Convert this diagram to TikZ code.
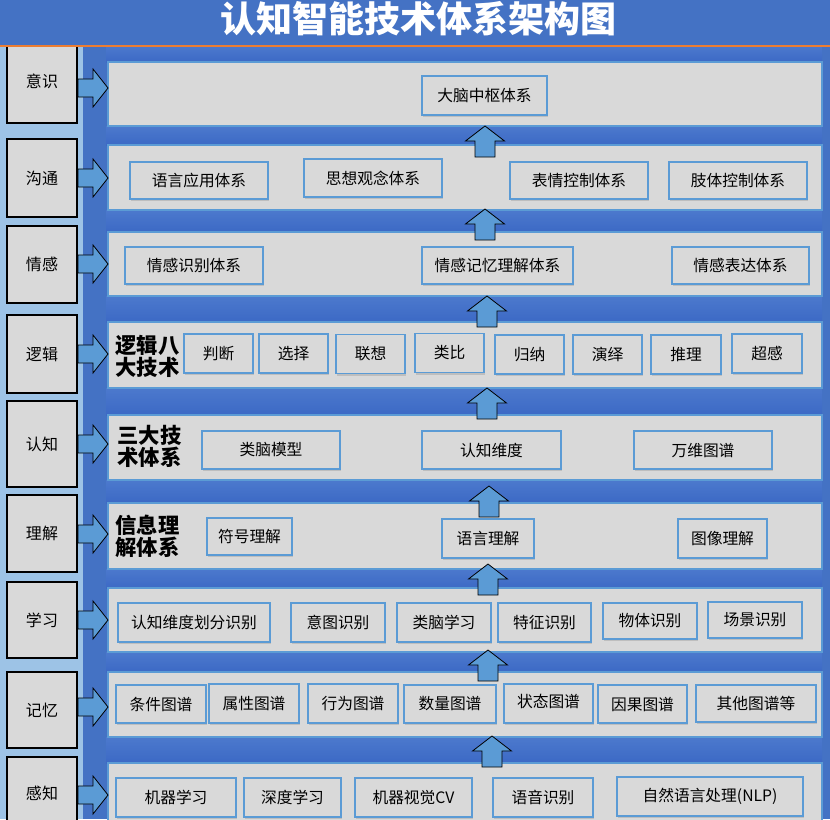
\documentclass[tikz,border=0pt]{standalone}
\usepackage{fontspec}
\usepackage{tikz}
\usetikzlibrary{shadows}
\newfontfamily\cjk{Noto Sans CJK SC}
\definecolor{mainblue}{HTML}{4472C4}
\definecolor{sideblue}{HTML}{9DC3E6}
\definecolor{edgeblue}{HTML}{5B9BD5}
\definecolor{boxgray}{HTML}{D9D9D9}
\definecolor{gaptop}{HTML}{4C79CD}
\definecolor{gapmid}{HTML}{6F93D8}
\definecolor{gapbot}{HTML}{3C69C5}
\definecolor{bandline}{HTML}{ED7D31}
\newcommand{\upx}{0.75pt}
\tikzset{
  arrowfill/.style={fill=edgeblue, draw=black, line width=0.6pt, line join=miter},
  rarr/.pic={\draw[arrowfill] (0,-9) -- (15,-9) -- (15,-19) -- (30,0) -- (15,19) -- (15,9) -- (0,9) -- cycle;},
  uarr/.pic={\draw[arrowfill] (0,0) -- (19.5,15) -- (10,15) -- (10,31) -- (-10,31) -- (-10,15) -- (-19.5,15) -- cycle;}
}

\begin{document}
\begin{tikzpicture}[x=0.75pt, y=-0.75pt, font=\cjk]
\tikzstyle{layer}=[rectangle, draw=edgeblue, fill=boxgray, line width=0.8pt, inner sep=0pt, minimum width=714*\upx]
\tikzstyle{side}=[rectangle, draw=black, fill=boxgray, line width=0.9pt, inner sep=0pt, minimum width=70*\upx, font=\cjk\fontsize{12}{13}\selectfont]
\tikzstyle{sub}=[rectangle, draw=edgeblue, fill=boxgray, line width=0.9pt, inner sep=0pt, font=\cjk\fontsize{11.8}{13}\selectfont, drop shadow={shadow xshift=0.6pt, shadow yshift=-1.6pt, opacity=0.3}]
\tikzstyle{hd}=[inner sep=0pt, align=left, font=\cjk\bfseries\fontsize{16}{16.5}\selectfont]
\clip (0,0) rectangle (830,819);
\fill[sideblue] (0,46) rectangle (83,819);
\fill[mainblue] (83,46) rectangle (830,819);
\foreach \a/\b in {46/62, 126/145, 210/232, 296/322, 388/415, 480/503, 569/588, 652/672, 737/763}
  \shade[top color=gaptop, middle color=gapmid, bottom color=gapbot] (106,\a) rectangle (822,\b);
\node[layer, minimum height=64*\upx] (l1) at (465,94) {};
\node[layer, minimum height=65*\upx] (l2) at (465,177.5) {};
\node[layer, minimum height=64*\upx] (l3) at (465,264) {};
\node[layer, minimum height=66*\upx] (l4) at (465,355) {};
\node[layer, minimum height=65*\upx] (l5) at (465,447.5) {};
\node[layer, minimum height=66*\upx] (l6) at (465,536) {};
\node[layer, minimum height=64*\upx] (l7) at (465,620) {};
\node[layer, minimum height=65*\upx] (l8) at (465,704.5) {};
\node[layer, minimum height=72*\upx] (l9) at (465,799) {};
\node[side, minimum height=83*\upx] (s1) at (42,81.5) {意识};
\node[side, minimum height=78*\upx] (s2) at (42,178) {沟通};
\node[side, minimum height=77*\upx] (s3) at (42,264.5) {情感};
\node[side, minimum height=78*\upx] (s4) at (42,354) {逻辑};
\node[side, minimum height=86*\upx] (s5) at (42,444) {认知};
\node[side, minimum height=77*\upx] (s6) at (42,533.5) {理解};
\node[side, minimum height=76*\upx] (s7) at (42,620) {学习};
\node[side, minimum height=76*\upx] (s8) at (42,710) {记忆};
\node[side, minimum height=73*\upx] (s9) at (42,793.5) {感知};
\node[rectangle, fill=mainblue, draw=bandline, line width=1.1pt, minimum width=832*\upx, minimum height=47*\upx, inner sep=0pt] (band) at (415,22.5) {};
\node[text=white, inner sep=0pt, font=\cjk\bfseries\fontsize{27}{29}\selectfont] (title) at (418,19) {认知智能技术体系架构图};
\foreach \y in {88, 178, 264, 354, 444, 534, 620, 707, 795}
  \pic at (78,\y) {rarr};
\foreach \x/\y in {485/126, 485/209, 487/296, 487/388, 489/486, 488/564, 488/650, 492/736}
  \pic at (\x,\y) {uarr};
\node[sub, minimum width=125*\upx, minimum height=39*\upx] (dnzs) at (484.5,95.5) {大脑中枢体系};
\node[sub, minimum width=138*\upx, minimum height=37*\upx] (yyyy) at (199,180.5) {语言应用体系};
\node[sub, minimum width=138*\upx, minimum height=38*\upx] (sxgn) at (373,178) {思想观念体系};
\node[sub, minimum width=138*\upx, minimum height=37*\upx] (bqkz) at (579,180.5) {表情控制体系};
\node[sub, minimum width=138*\upx, minimum height=37*\upx] (ztkz) at (738,180.5) {肢体控制体系};
\node[sub, minimum width=138*\upx, minimum height=37*\upx] (qgsb) at (194,265.5) {情感识别体系};
\node[sub, minimum width=151*\upx, minimum height=37*\upx] (qgjy) at (497.5,265.5) {情感记忆理解体系};
\node[sub, minimum width=137*\upx, minimum height=37*\upx] (qgbd) at (740.5,265.5) {情感表达体系};
\node[hd] (hd4) at (147.5,356) {逻辑八\\大技术};
\node[sub, minimum width=69*\upx, minimum height=39*\upx] (pd) at (218.5,353.5) {判断};
\node[sub, minimum width=69*\upx, minimum height=39*\upx] (xz) at (293.5,353.5) {选择};
\node[sub, minimum width=69*\upx, minimum height=39*\upx] (lx) at (370.5,354) {联想};
\node[sub, minimum width=69*\upx, minimum height=39*\upx] (lb) at (449.5,353) {类比};
\node[sub, minimum width=69*\upx, minimum height=39*\upx] (gn) at (529.5,354.5) {归纳};
\node[sub, minimum width=69*\upx, minimum height=39*\upx] (yy) at (607.5,354.5) {演绎};
\node[sub, minimum width=70*\upx, minimum height=39*\upx] (tl) at (686,354.5) {推理};
\node[sub, minimum width=70*\upx, minimum height=39*\upx] (cg) at (767,353.5) {超感};
\node[hd] (hd5) at (149.5,446.5) {三大技\\术体系};
\node[sub, minimum width=138*\upx, minimum height=38*\upx] (lnmx) at (271,450) {类脑模型};
\node[sub, minimum width=139*\upx, minimum height=38*\upx] (rzwd) at (491.5,450) {认知维度};
\node[sub, minimum width=138*\upx, minimum height=38*\upx] (wwtp) at (703,450) {万维图谱};
\node[hd] (hd6) at (147.5,536.5) {信息理\\解体系};
\node[sub, minimum width=85*\upx, minimum height=37*\upx] (fhlj) at (249.5,536.5) {符号理解};
\node[sub, minimum width=92*\upx, minimum height=39*\upx] (yylj) at (488,538.5) {语言理解};
\node[sub, minimum width=89*\upx, minimum height=39*\upx] (txlj) at (722.5,538.5) {图像理解};
\node[sub, minimum width=152*\upx, minimum height=39*\upx] (rzhf) at (194,622.5) {认知维度划分识别};
\node[sub, minimum width=94*\upx, minimum height=39*\upx] (ytsb) at (338,622.5) {意图识别};
\node[sub, minimum width=94*\upx, minimum height=39*\upx] (lnxx) at (444,622.5) {类脑学习};
\node[sub, minimum width=93*\upx, minimum height=39*\upx] (tzsb) at (544.5,622.5) {特征识别};
\node[sub, minimum width=94*\upx, minimum height=36*\upx] (wtsb) at (650,621) {物体识别};
\node[sub, minimum width=94*\upx, minimum height=36*\upx] (cjsb) at (755,620) {场景识别};
\node[sub, minimum width=90*\upx, minimum height=38*\upx] (tjtp) at (161,704) {条件图谱};
\node[sub, minimum width=90*\upx, minimum height=39*\upx] (sxtp) at (254,703.5) {属性图谱};
\node[sub, minimum width=90*\upx, minimum height=39*\upx] (xwtp) at (353,703.5) {行为图谱};
\node[sub, minimum width=92*\upx, minimum height=38*\upx] (sltp) at (450,704) {数量图谱};
\node[sub, minimum width=89*\upx, minimum height=39*\upx, text depth=4pt] (zttp) at (548.5,703.5) {状态图谱};
\node[sub, minimum width=89*\upx, minimum height=38*\upx] (ygtp) at (642.5,704) {因果图谱};
\node[sub, minimum width=120*\upx, minimum height=37*\upx] (qttp) at (756,703.5) {其他图谱等};
\node[sub, minimum width=120*\upx, minimum height=39*\upx] (jqxx) at (176,797.5) {机器学习};
\node[sub, minimum width=97*\upx, minimum height=39*\upx] (sdxx) at (292.5,797.5) {深度学习};
\node[sub, minimum width=117*\upx, minimum height=39*\upx] (jqsj) at (413.5,797.5) {机器视觉CV};
\node[sub, minimum width=100*\upx, minimum height=39*\upx] (yysb) at (543,797.5) {语音识别};
\node[sub, minimum width=186*\upx, minimum height=39*\upx] (zryy) at (710,796.5) {自然语言处理(NLP)};
\end{tikzpicture}
\end{document}
